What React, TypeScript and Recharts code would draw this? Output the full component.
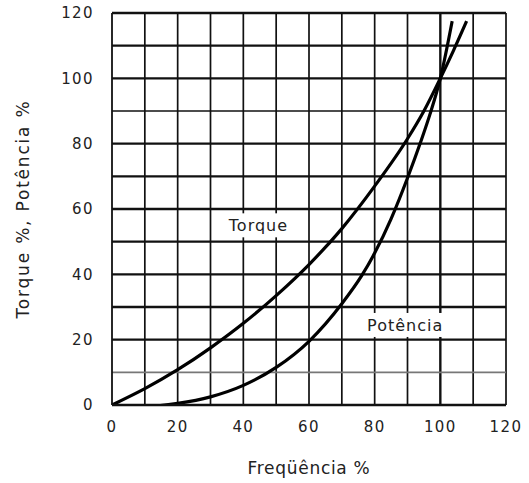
import {
  LineChart, Line, XAxis, YAxis, ReferenceLine, ReferenceDot
} from 'recharts';

// freq % -> torque %
const TORQUE_FREQ = [0, 10, 20, 30, 40, 50, 60, 70, 80, 90, 95, 100, 104, 108];
const TORQUE_VAL = [0, 5, 10.8, 17.5, 25, 33.5, 43, 54, 67, 81.5, 90, 100, 108.5, 117.5];

// freq % -> potencia %
const POWER_FREQ = [0, 10, 20, 30, 40, 50, 60, 70, 76, 80, 85, 90, 94, 97, 100, 103.6];
const POWER_VAL = [0, -0.5, 0.5, 2.5, 6, 11.5, 19.5, 31, 39.5, 46.5, 57, 69.5, 80.5, 89.5, 100, 117.5];

const TICKS = [0, 20, 40, 60, 80, 100, 120];
const GRID = [10, 20, 30, 40, 50, 60, 70, 80, 90, 100, 110, 120];

const torqueData = TORQUE_FREQ.map((x, i) => ({ x, y: TORQUE_VAL[i] }));
const powerData = POWER_FREQ.map((x, i) => ({ x, y: POWER_VAL[i] }));

const FONT = '"DejaVu Sans", Verdana, sans-serif';

function BoxLabel({ viewBox, value, w, h }: any) {
  const cx = viewBox.x;
  const cy = viewBox.y;
  return (
    <g>
      <rect x={cx - w / 2} y={cy - h / 2} width={w} height={h} fill="#fff" />
      <text x={cx} y={cy} dy="0.36em" textAnchor="middle" fontFamily={FONT}
        fontSize={16} letterSpacing={1} fill="#222">{value}</text>
    </g>
  );
}

export default function App() {
  const tickStyle = { fill: '#222', fontSize: 15, fontFamily: FONT, letterSpacing: 1.4 };
  return (
    <div style={{ position: 'fixed', left: 0, top: 0, background: '#fff' }}>
      <LineChart width={529} height={483} margin={{ top: 13, right: 23, bottom: 0, left: 0 }}>
        <XAxis
          type="number" dataKey="x" domain={[0, 120]} ticks={TICKS}
          allowDuplicatedCategory={false}
          height={78} tickLine={false} tickSize={0} tickMargin={16}
          axisLine={{ stroke: '#111', strokeWidth: 2.5 }}
          tick={tickStyle}
          label={{ value: 'Freqüência %', position: 'insideBottom', offset: 9,
            style: { fill: '#222', fontSize: 17, fontFamily: FONT, letterSpacing: 0.7 } }}
        />
        <YAxis
          type="number" domain={[0, 120]} ticks={TICKS} allowDataOverflow
          width={112} tickLine={false} tickSize={0} tickMargin={18}
          axisLine={{ stroke: '#111', strokeWidth: 1.8 }}
          tick={tickStyle}
          label={{ value: 'Torque %, Potência %', angle: -90, position: 'insideLeft', offset: 23,
            style: { textAnchor: 'middle', fill: '#222', fontSize: 17, fontFamily: FONT, letterSpacing: 1.8 } }}
        />
        {GRID.map((v) => (
          <ReferenceLine key={`v${v}`} x={v} stroke="#111" strokeWidth={v === 100 ? 2.4 : 1.7} />
        ))}
        {GRID.map((v) => (
          <ReferenceLine key={`h${v}`} y={v}
            stroke={v === 10 ? '#777' : '#111'}
            strokeWidth={v === 10 || v === 90 ? 1.6 : 2.4} />
        ))}
        <ReferenceDot x={44.6} y={55} r={0} stroke="none"
          label={<BoxLabel value="Torque" w={66} h={24} />} />
        <ReferenceDot x={89.3} y={24.5} r={0} stroke="none"
          label={<BoxLabel value="Potência" w={80} h={24} />} />
        <Line data={torqueData} dataKey="y" type="monotone" stroke="#000" strokeWidth={3.2}
          dot={false} isAnimationActive={false} />
        <Line data={powerData} dataKey="y" type="monotone" stroke="#000" strokeWidth={3.2}
          dot={false} isAnimationActive={false} />
      </LineChart>
    </div>
  );
}
